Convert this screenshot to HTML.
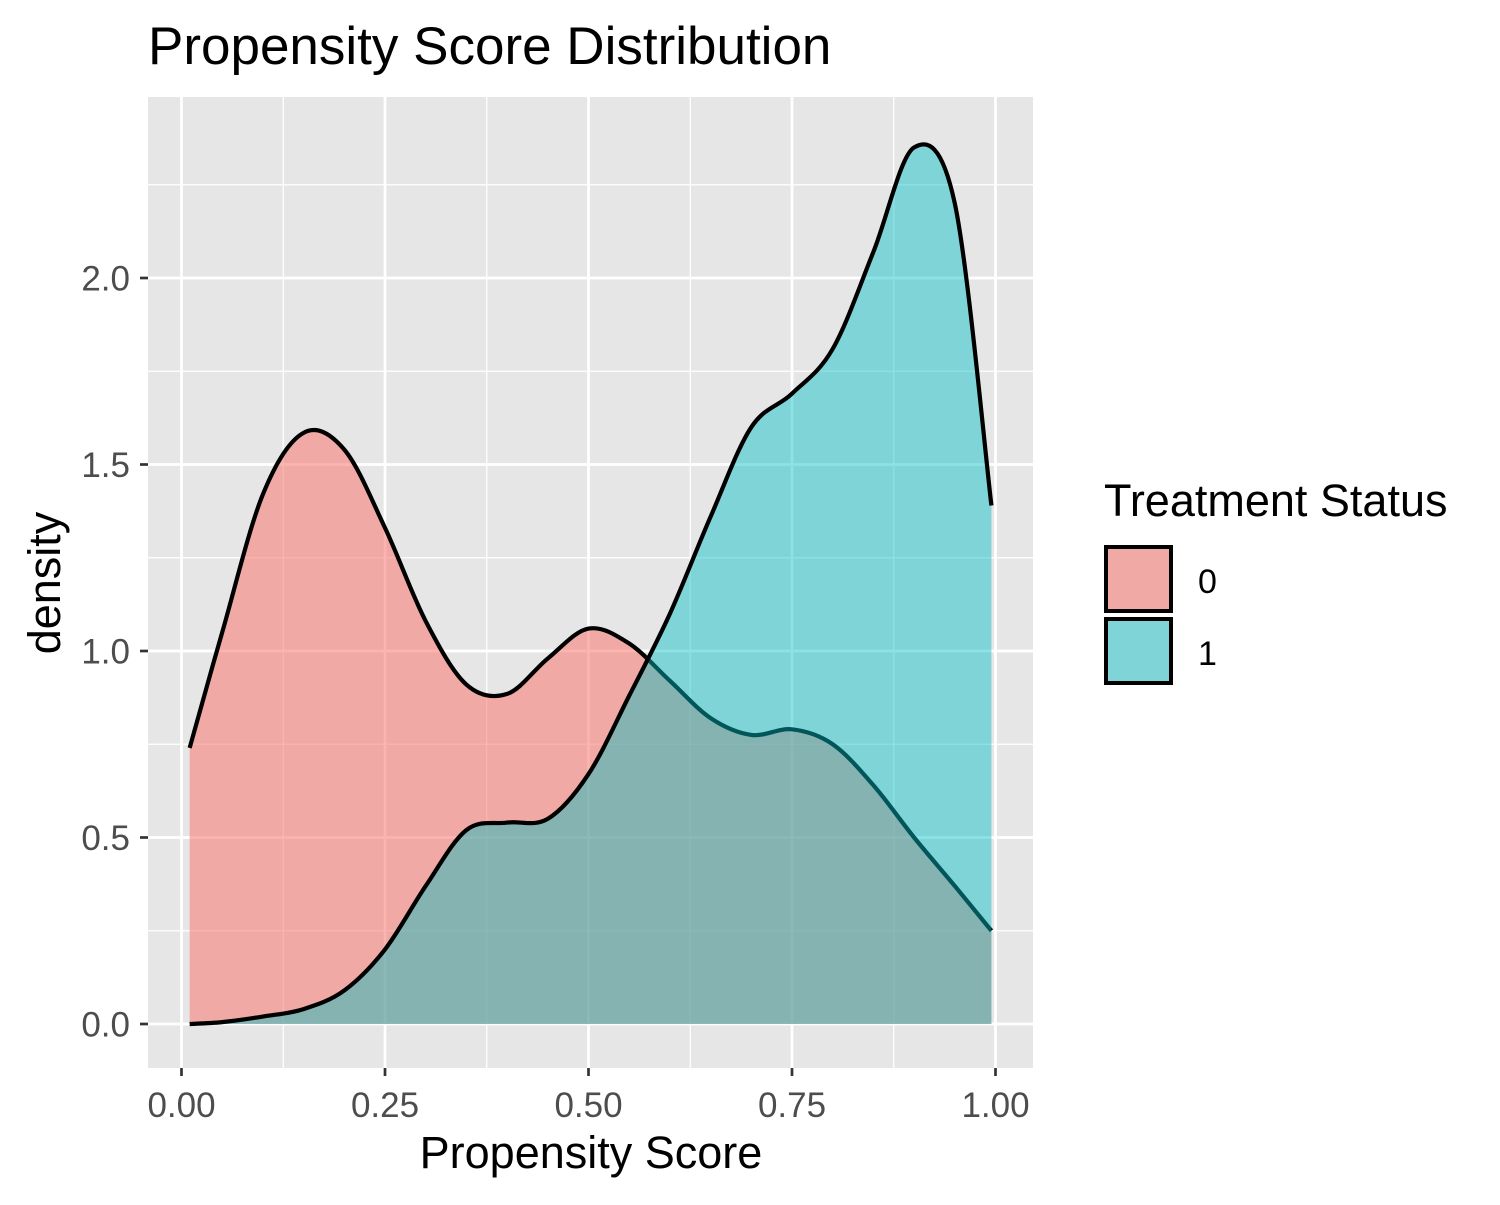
<!DOCTYPE html>
<html><head><meta charset="utf-8"><style>
body{margin:0;background:#fff;}
svg text{font-family:"Liberation Sans",Arial,sans-serif;}
</style></head><body>
<svg id="chart" width="1500" height="1200">
<text x="148" y="64" font-size="53" fill="#000">Propensity Score Distribution</text>
<rect x="148" y="97" width="885" height="971" fill="#E6E6E6"/>
<g id="grid"></g>
<g id="areas"></g>
<g id="axes"></g>
<text x="591" y="1168" font-size="45" text-anchor="middle" fill="#000">Propensity Score</text>
<text transform="translate(60,583) rotate(-90)" font-size="45" text-anchor="middle" fill="#000">density</text>
<text x="1104" y="516" font-size="45" fill="#000">Treatment Status</text>
<g>
<rect x="1106" y="547" width="65" height="64" fill="#E6E6E6"/>
<rect x="1106" y="547" width="65" height="64" fill="#F8766D" fill-opacity="0.55" stroke="#000" stroke-width="4"/>
<text x="1198" y="593" font-size="34" fill="#000">0</text></g>
<g>
<rect x="1106" y="619" width="65" height="64" fill="#E6E6E6"/>
<rect x="1106" y="619" width="65" height="64" fill="#00BFC4" fill-opacity="0.45" stroke="#000" stroke-width="4"/>
<text x="1198" y="665" font-size="34" fill="#000">1</text></g>
</svg>
<script>
const xs=[0.01,0.05,0.10,0.15,0.20,0.25,0.30,0.35,0.40,0.45,0.50,0.55,0.60,0.65,0.70,0.75,0.80,0.85,0.90,0.95,0.995];
const dens0=[0.74,1.05,1.42,1.585,1.54,1.33,1.08,0.91,0.885,0.98,1.06,1.02,0.92,0.82,0.775,0.79,0.75,0.64,0.50,0.37,0.25];
const dens1=[0.0,0.005,0.02,0.04,0.09,0.2,0.37,0.52,0.54,0.55,0.67,0.88,1.1,1.36,1.6,1.69,1.81,2.07,2.35,2.2,1.39];
const xTicks=[0,0.25,0.5,0.75,1.0];
const xTickLabels=["0.00","0.25","0.50","0.75","1.00"];
const yTicks=[0,0.5,1.0,1.5,2.0];
const yTickLabels=["0.0","0.5","1.0","1.5","2.0"];
const X=v=>181.5+v*814, Y=v=>1024-v*373;
const NS="http://www.w3.org/2000/svg";
function mk(tag,attrs,parent){const e=document.createElementNS(NS,tag);for(const k in attrs)e.setAttribute(k,attrs[k]);parent.appendChild(e);return e;}
const grid=document.getElementById('grid'),areas=document.getElementById('areas'),axes=document.getElementById('axes');
for(let i=0;i<xTicks.length-1;i++){const v=(xTicks[i]+xTicks[i+1])/2;const l=mk('line',{x1:X(v),x2:X(v),y1:97,y2:1068,stroke:'#fff','stroke-width':1.3},grid);

}
for(let i=0;i<yTicks.length;i++){const v=yTicks[i]+0.25;const l=mk('line',{x1:148,x2:1033,y1:Y(v),y2:Y(v),stroke:'#fff','stroke-width':1.3},grid);

}
xTicks.forEach((v,i)=>{const l=mk('line',{x1:X(v),x2:X(v),y1:97,y2:1068,stroke:'#fff','stroke-width':2.7},grid);


mk('line',{x1:X(v),x2:X(v),y1:1068,y2:1076,stroke:'#333','stroke-width':2.7},axes);
const t=mk('text',{x:X(v),y:1117,'font-size':35,'text-anchor':'middle',fill:'#4D4D4D'},axes);t.textContent=xTickLabels[i];

});
yTicks.forEach((v,i)=>{const l=mk('line',{x1:148,x2:1033,y1:Y(v),y2:Y(v),stroke:'#fff','stroke-width':2.7},grid);


mk('line',{x1:140,x2:148,y1:Y(v),y2:Y(v),stroke:'#333','stroke-width':2.7},axes);
const t=mk('text',{x:130,y:Y(v)+12.5,'font-size':35,'text-anchor':'end',fill:'#4D4D4D'},axes);t.textContent=yTickLabels[i];

});
function curve(ys){const p=xs.map((x,i)=>[X(x),Y(ys[i])]);let d=`M${p[0][0]},${p[0][1]}`;
for(let i=0;i<p.length-1;i++){const p0=p[Math.max(0,i-1)],p1=p[i],p2=p[i+1],p3=p[Math.min(p.length-1,i+2)];
d+=` C${p1[0]+(p2[0]-p0[0])/6},${p1[1]+(p2[1]-p0[1])/6} ${p2[0]-(p3[0]-p1[0])/6},${p2[1]-(p3[1]-p1[1])/6} ${p2[0]},${p2[1]}`;}return d;}
[[dens0,'#F8766D',0.55,'density-area-0'],[dens1,'#00BFC4',0.45,'density-area-1']].forEach(([ys,c,a,n])=>{
const d=curve(ys);
const f=mk('path',{d:d+` L${X(xs[xs.length-1])},${Y(0)} L${X(xs[0])},${Y(0)} Z`,fill:c,'fill-opacity':a},areas);


const s=mk('path',{d:d,fill:'none',stroke:'#000','stroke-width':4.2,'stroke-linejoin':'round'},areas);

});
</script>
</body></html>
